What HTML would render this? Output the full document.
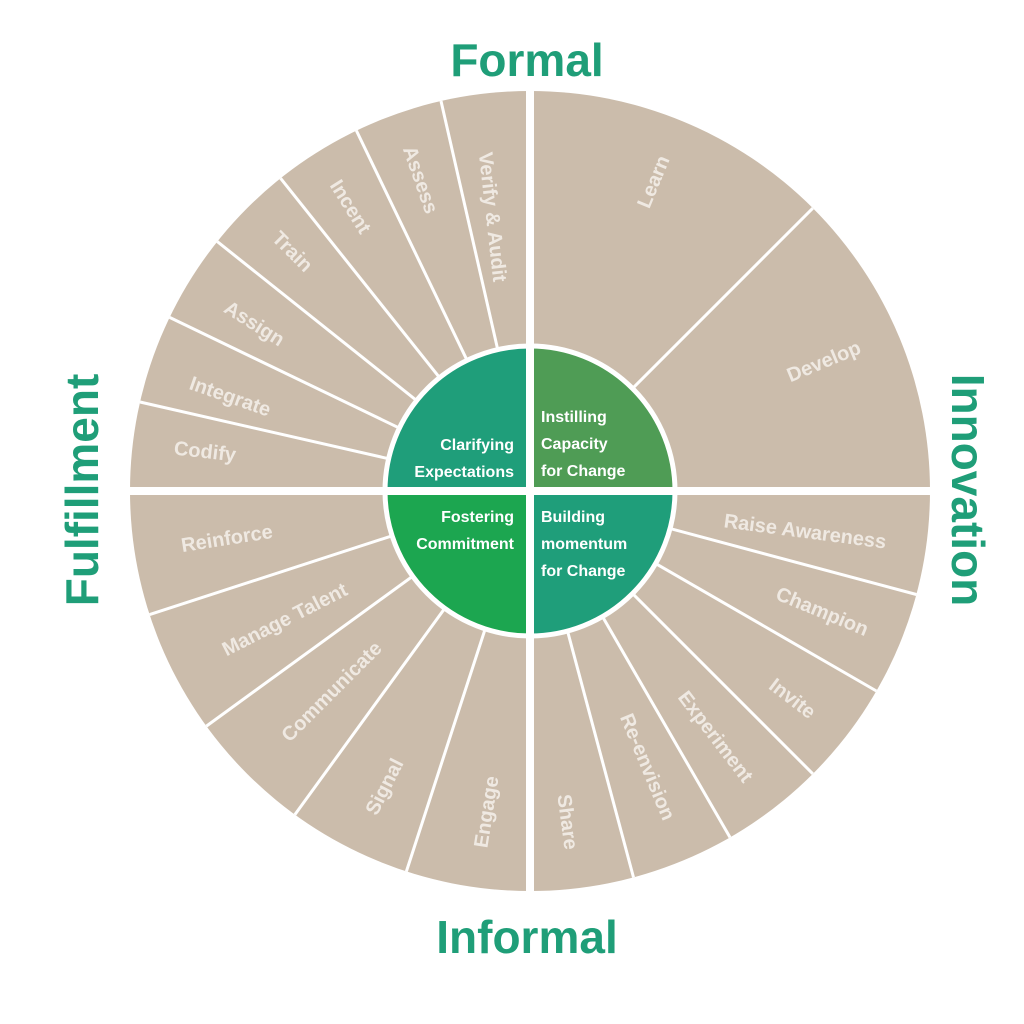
<!DOCTYPE html>
<html><head><meta charset="utf-8"><style>
html,body{margin:0;padding:0;background:#fff;}
svg{display:block;}
.s{font-family:"Liberation Sans",sans-serif;font-size:20px;font-weight:bold;fill:#efe9e2;}
.c{font-family:"Liberation Sans",sans-serif;font-size:16px;font-weight:bold;fill:#fff;}
.t{font-family:"Liberation Sans",sans-serif;font-size:46px;font-weight:bold;fill:#1f9e78;}
</style></head><body>
<svg width="1024" height="1024" viewBox="0 0 1024 1024">
<g transform="translate(2,2)">
<circle cx="528" cy="489" r="400" fill="#cbbcab"/>
<g stroke="#fff" stroke-width="3">
<line x1="528" y1="489" x2="439" y2="99"/>
<line x1="528" y1="489" x2="354.4" y2="128.6"/>
<line x1="528" y1="489" x2="278.6" y2="176.3"/>
<line x1="528" y1="489" x2="215.3" y2="239.6"/>
<line x1="528" y1="489" x2="167.6" y2="315.4"/>
<line x1="528" y1="489" x2="138" y2="400"/>
<line x1="528" y1="489" x2="810.8" y2="206.2"/>
<line x1="528" y1="489" x2="914.4" y2="592.5"/>
<line x1="528" y1="489" x2="874.4" y2="689"/>
<line x1="528" y1="489" x2="810.8" y2="771.8"/>
<line x1="528" y1="489" x2="728" y2="835.4"/>
<line x1="528" y1="489" x2="631.5" y2="875.4"/>
<line x1="528" y1="489" x2="147.6" y2="612.6"/>
<line x1="528" y1="489" x2="204.4" y2="724.1"/>
<line x1="528" y1="489" x2="292.9" y2="812.6"/>
<line x1="528" y1="489" x2="404.4" y2="869.4"/>
</g>
<path d="M528,489 L383,489 A145,145 0 0 1 528,344 Z" fill="#1f9e7a"/>
<path d="M528,489 L528,344 A145,145 0 0 1 673,489 Z" fill="#4f9c55"/>
<path d="M528,489 L673,489 A145,145 0 0 1 528,634 Z" fill="#1f9e7a"/>
<path d="M528,489 L528,634 A145,145 0 0 1 383,489 Z" fill="#1ca650"/>
<circle cx="528" cy="489" r="145" fill="none" stroke="#fff" stroke-width="5"/>
<rect x="524" y="80" width="8" height="830" fill="#fff"/>
<rect x="115" y="485" width="830" height="8" fill="#fff"/>

<g class="s" text-anchor="middle" dominant-baseline="central">
<text transform="translate(203,450) rotate(6.43)">Codify</text>
<text transform="translate(228,395) rotate(19.29)">Integrate</text>
<text transform="translate(252,322) rotate(32.14)">Assign</text>
<text transform="translate(290,250) rotate(45)">Train</text>
<text transform="translate(348,205) rotate(57.86)">Incent</text>
<text transform="translate(418,178) rotate(70.71)">Assess</text>
<text transform="translate(490,215) rotate(83.57)">Verify &amp; Audit</text>
<text transform="translate(652,180) rotate(-67.5)">Learn</text>
<text transform="translate(822,360) rotate(-22.5)">Develop</text>
<text transform="translate(803,530) rotate(7.5)">Raise Awareness</text>
<text transform="translate(820,610) rotate(22.5)">Champion</text>
<text transform="translate(790,697) rotate(37.5)">Invite</text>
<text transform="translate(713,735) rotate(52.5)">Experiment</text>
<text transform="translate(645,765) rotate(67.5)">Re-envision</text>
<text transform="translate(565,820) rotate(82.5)">Share</text>
<text transform="translate(225,537) rotate(-9)">Reinforce</text>
<text transform="translate(283,618) rotate(-27)">Manage Talent</text>
<text transform="translate(330,690) rotate(-45)">Communicate</text>
<text transform="translate(383,785) rotate(-63)">Signal</text>
<text transform="translate(485,810) rotate(-81)">Engage</text>
</g>

<g class="c" text-anchor="end">
<text x="512" y="448">Clarifying</text>
<text x="512" y="475">Expectations</text>
<text x="512" y="520">Fostering</text>
<text x="512" y="547">Commitment</text>
</g>
<g class="c">
<text x="539" y="420">Instilling</text>
<text x="539" y="447">Capacity</text>
<text x="539" y="474">for Change</text>
<text x="539" y="520">Building</text>
<text x="539" y="547">momentum</text>
<text x="539" y="574">for Change</text>
</g>
</g>

<g class="t" text-anchor="middle" dominant-baseline="central">
<text x="527" y="60">Formal</text>
<text x="527" y="937">Informal</text>
<text transform="translate(82,490) rotate(-90)">Fulfillment</text>
<text transform="translate(968,490) rotate(90)">Innovation</text>
</g>
</svg>
</body></html>
